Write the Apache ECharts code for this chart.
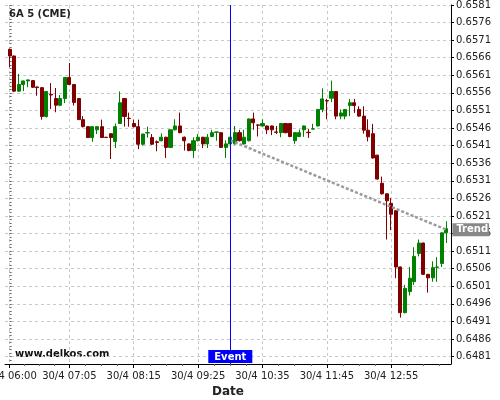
<!DOCTYPE html>
<html><head><meta charset="utf-8">
<script src="https://cdn.jsdelivr.net/npm/echarts@6/dist/echarts.min.js"></script>
<style>html,body{margin:0;padding:0;background:#fff}#c{width:500px;height:400px}</style>
</head><body><div id="c"></div>
<script>
// 5-minute candles, index 0 = 30/4 06:00
const xTickIndex = [0, 13, 27, 41, 55, 69, 83];
const xTickLabels = ['30/4 06:00', '30/4 07:05', '30/4 08:15', '30/4 09:25', '30/4 10:35', '30/4 11:45', '30/4 12:55'];
const yTickValues = [0.6481, 0.6486, 0.6491, 0.6496, 0.6501, 0.6506, 0.6511, 0.6516, 0.6521, 0.6526, 0.6531,
                     0.6536, 0.6541, 0.6546, 0.6551, 0.6556, 0.6561, 0.6566, 0.6571, 0.6576, 0.6581];

const openValues = [0.65684,0.65665,0.65565,0.65584,0.65594,0.65595,0.65577,0.65575,0.65493,0.65556,
  0.65544,0.65525,0.65544,0.65604,0.65584,0.65544,0.65484,0.65464,0.65433,0.65455,
  0.65464,0.65434,0.65444,0.65422,0.65473,0.65544,0.65488,0.65473,0.65464,0.65414,
  0.65446,0.65433,0.65421,0.65424,0.65434,0.65405,0.65455,0.65466,0.65434,0.65415,
  0.65396,0.65424,0.65434,0.65415,0.65436,0.65448,0.65447,0.65405,0.65415,0.65415,
  0.65447,0.65415,0.65424,0.65486,0.65469,0.65466,0.65466,0.65466,0.65449,0.65447,
  0.65473,0.65473,0.65424,0.65436,0.65455,0.65448,0.65457,0.65466,0.65513,0.65538,
  0.65545,0.65564,0.65494,0.65494,0.65524,0.65532,0.65513,0.65494,0.65454,0.65444,
  0.65383,0.65303,0.65273,0.65246,0.65225,0.65065,0.64935,0.64995,0.65023,0.65103,
  0.65133,0.65044,0.65034,0.65064,0.65075,0.65162];
const closeValues = [0.65665,0.65565,0.65584,0.65594,0.65597,0.65576,0.65575,0.65493,0.65564,0.65554,
  0.65525,0.65544,0.65604,0.65584,0.65533,0.65484,0.65464,0.65433,0.65464,0.65464,
  0.65433,0.65433,0.65433,0.65464,0.65532,0.65493,0.65487,0.65464,0.65414,0.65443,
  0.65447,0.65414,0.65419,0.65434,0.65405,0.65455,0.65466,0.65447,0.65424,0.65396,
  0.65424,0.65434,0.65415,0.65434,0.65447,0.65449,0.65405,0.65415,0.65434,0.65447,
  0.65424,0.65434,0.65486,0.65475,0.65468,0.65473,0.65455,0.65455,0.65448,0.65473,
  0.65447,0.65436,0.65447,0.65447,0.65466,0.65447,0.65458,0.65513,0.65543,0.65537,
  0.65564,0.65494,0.65503,0.65513,0.65532,0.65524,0.65494,0.65454,0.65435,0.65375,
  0.65315,0.65273,0.65253,0.65215,0.65065,0.64935,0.65004,0.65033,0.65095,0.65133,
  0.65044,0.65034,0.65063,0.65065,0.65162,0.65174];
const lowValues = [0.65633,0.65563,0.65563,0.65565,0.65576,0.65574,0.65552,0.65484,0.65490,0.65514,
  0.65505,0.65522,0.65531,0.65583,0.65524,0.65483,0.65462,0.65432,0.65421,0.65443,
  0.65432,0.65432,0.65372,0.65403,0.65472,0.65464,0.65464,0.65462,0.65400,0.65410,
  0.65433,0.65412,0.65394,0.65422,0.65375,0.65403,0.65453,0.65445,0.65396,0.65394,
  0.65375,0.65422,0.65403,0.65403,0.65434,0.65424,0.65404,0.65375,0.65413,0.65413,
  0.65422,0.65413,0.65422,0.65455,0.65436,0.65465,0.65443,0.65440,0.65443,0.65434,
  0.65445,0.65434,0.65415,0.65434,0.65435,0.65432,0.65456,0.65465,0.65505,0.65485,
  0.65534,0.65485,0.65485,0.65485,0.65494,0.65503,0.65492,0.65444,0.65422,0.65373,
  0.65313,0.65271,0.65143,0.65170,0.65033,0.64921,0.64933,0.64984,0.65014,0.65095,
  0.65042,0.64992,0.65023,0.65023,0.65065,0.65133];
const highValues = [0.65686,0.65666,0.65614,0.65595,0.65598,0.65596,0.65578,0.65576,0.65565,0.65588,
  0.65574,0.65554,0.65605,0.65645,0.65585,0.65545,0.65494,0.65465,0.65465,0.65465,
  0.65484,0.65435,0.65445,0.65473,0.65564,0.65545,0.65504,0.65484,0.65484,0.65444,
  0.65464,0.65443,0.65425,0.65445,0.65435,0.65456,0.65485,0.65504,0.65436,0.65416,
  0.65434,0.65443,0.65435,0.65443,0.65455,0.65450,0.65448,0.65425,0.65436,0.65466,
  0.65455,0.65455,0.65487,0.65504,0.65470,0.65485,0.65467,0.65467,0.65466,0.65474,
  0.65474,0.65474,0.65448,0.65456,0.65467,0.65458,0.65472,0.65514,0.65573,0.65543,
  0.65595,0.65565,0.65513,0.65514,0.65543,0.65543,0.65522,0.65522,0.65485,0.65472,
  0.65384,0.65322,0.65274,0.65261,0.65226,0.65066,0.65014,0.65065,0.65121,0.65143,
  0.65134,0.65045,0.65081,0.65093,0.65163,0.65195];

const eventIndex = 48;
const eventText = 'Event';
const trendPoints = [[48, 0.65425], [95, 0.65171]];
const trendText = 'Trend';

const FONT = 'DejaVu Sans';
const chart = echarts.init(document.getElementById('c'), null, {renderer: 'canvas'});

const yMinor = [];
for (let k = 0; k <= 102; k++) { yMinor.push(+(0.6480 + k * 0.0001).toFixed(4)); }
const xMinor = [];
for (let j = 0; j < xTickIndex.length; j++) {
  const a = xTickIndex[j];
  const b = j + 1 < xTickIndex.length ? xTickIndex[j + 1] : a + 14;
  for (let q = 1; q < 4; q++) { const v = a + (b - a) * q / 4; if (v <= 96) xMinor.push(v); }
}

const gridLine = {show: true, lineStyle: {color: '#c8c8c8', type: [3, 3], width: 1}};

chart.setOption({
  animation: false,
  backgroundColor: '#ffffff',
  textStyle: {fontFamily: FONT},
  title: {text: '6A 5 (CME)', left: 9, top: 9, padding: 0,
    textStyle: {fontFamily: FONT, fontSize: 10, fontWeight: 'bold', color: '#222'}},
  graphic: [{type: 'text', left: 15, top: 349,
    style: {text: 'www.delkos.com', font: 'bold 10px "DejaVu Sans"', fill: '#111'}}],
  grid: {left: 5, right: 49, top: 5, bottom: 36, containLabel: false, outerBoundsMode: 'none'},
  xAxis: [{
    type: 'value', min: -1, max: 96, position: 'bottom',
    name: 'Date', nameLocation: 'middle', nameGap: 20,
    nameTextStyle: {fontFamily: FONT, fontSize: 12, fontWeight: 'bold', color: '#222'},
    axisLine: {show: true, onZero: false, lineStyle: {color: '#000', width: 1}},
    axisTick: {show: true, length: 4, customValues: xTickIndex, lineStyle: {color: '#000'}},
    axisLabel: {customValues: xTickIndex, margin: 7, fontSize: 10, color: '#222', fontFamily: FONT,
      formatter: v => xTickLabels[xTickIndex.indexOf(v)] || ''},
    splitLine: gridLine
  }, {
    type: 'value', min: -1, max: 96, position: 'bottom',
    axisLine: {show: false}, axisLabel: {show: false}, splitLine: {show: false},
    axisTick: {show: true, length: 2, customValues: xMinor, lineStyle: {color: '#666'}}
  }],
  yAxis: [{
    type: 'value', min: 0.64789, max: 0.6581, position: 'right', scale: true,
    axisLine: {show: true, onZero: false, lineStyle: {color: '#000', width: 1}},
    axisTick: {show: true, length: 3, customValues: yTickValues, lineStyle: {color: '#000'}},
    axisLabel: {customValues: yTickValues, margin: 5, fontSize: 10, color: '#222', fontFamily: FONT,
      formatter: v => v.toFixed(4)},
    splitLine: gridLine
  }, {
    type: 'value', min: 0.64789, max: 0.6581, position: 'right', scale: true,
    axisLine: {show: false}, axisLabel: {show: false}, splitLine: {show: false},
    axisTick: {show: true, length: 2, customValues: yMinor, lineStyle: {color: '#666'}}
  }],
  series: [{
    type: 'candlestick',
    xAxisIndex: 0, yAxisIndex: 0,
    barWidth: 3.6,
    itemStyle: {color: '#008000', color0: '#800000', borderColor: '#008000', borderColor0: '#800000', borderWidth: 1},
    data: openValues.map((o, i) => [i, o, closeValues[i], lowValues[i], highValues[i]]),
    markLine: {
      silent: true, symbol: ['none', 'none'], animation: false,
      lineStyle: {color: '#0000ff', width: 1, type: 'solid'},
      label: {show: true, position: 'start', distance: -14, formatter: eventText,
        color: '#fff', fontWeight: 'bold', fontSize: 10, fontFamily: FONT,
        backgroundColor: '#0000ff', padding: [2, 6, 1, 6]},
      data: [{xAxis: eventIndex}]
    }
  }, {
    type: 'line', xAxisIndex: 0, yAxisIndex: 0,
    data: trendPoints, showSymbol: false, symbol: 'none', silent: true,
    lineStyle: {color: '#9a9a9a', width: 2.5, type: [3, 2]},
    endLabel: {show: true, formatter: trendText, distance: 6, color: '#fff', fontWeight: 'bold',
      fontSize: 10, fontFamily: FONT, backgroundColor: '#888888', padding: [2, 1, 1, 4]}
  }]
});
</script></body></html>
